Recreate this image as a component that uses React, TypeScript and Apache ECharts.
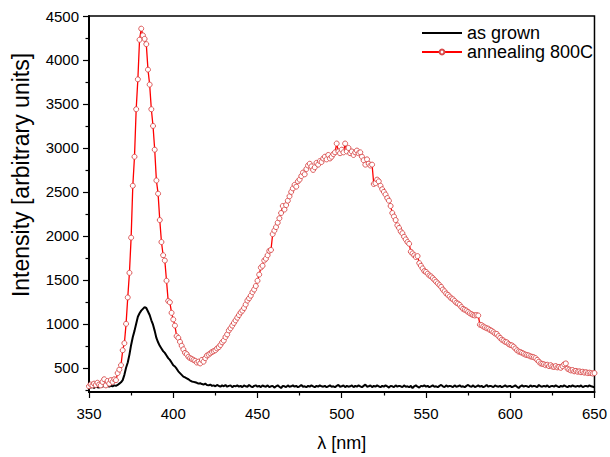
import React, { useEffect, useRef } from "react";
import * as echarts from "echarts";

// Wavelength sampling grid (nm), 1 nm steps from 350 to 650
const wavelengths: number[] = Array.from({ length: 301 }, (_, i) => 350 + i);

// "annealing 800C" intensities, 350..650 nm
const annealing800C: number[] = [
  290, 310, 300, 320, 305, 330, 310, 300, 340, 370,
  300, 350, 320, 360, 340, 370, 360, 440, 480, 530,
  700, 780, 1000, 1300, 1580, 1980, 2570, 2900, 3440, 3780,
  4230, 4356, 4280, 4240, 4180, 3890, 3720, 3440, 3250, 2980,
  2630, 2480, 2180, 1930, 1780, 1720, 1490, 1260, 1245, 1125,
  1050, 980, 860, 840, 795, 750, 710, 670, 655, 625,
  610, 600, 590, 580, 560, 570, 550, 590, 570, 610,
  640, 650, 665, 680, 690, 700, 720, 735, 760, 790,
  810, 850, 880, 925, 950, 980, 1010, 1040, 1070, 1100,
  1130, 1150, 1180, 1220, 1265, 1290, 1320, 1360, 1390, 1430,
  1490, 1560, 1640, 1660, 1720, 1740, 1780, 1830, 1840, 2020,
  2060, 2100, 2150, 2200, 2260, 2340, 2300, 2350, 2400, 2450,
  2500, 2540, 2580, 2560, 2620, 2640, 2680, 2720, 2700, 2760,
  2800, 2820, 2790, 2750, 2780, 2830, 2810, 2850, 2840, 2880,
  2900, 2870, 2920, 2880, 2900, 2930, 2950, 3050, 2960, 2940,
  2980, 2950, 3050, 2960, 3000, 2940, 2960, 2920, 2950, 2970,
  2940, 2950, 2900, 2860, 2810, 2870, 2820, 2800, 2810, 2590,
  2600, 2640, 2620, 2570, 2530, 2500, 2470, 2430, 2400, 2340,
  2260, 2220, 2180, 2120, 2090, 2050, 2030, 1990, 1960, 1930,
  1910, 1820, 1800, 1780, 1760, 1770, 1690, 1660, 1630, 1600,
  1590, 1570, 1550, 1540, 1520, 1500, 1480, 1460, 1440, 1420,
  1390, 1370, 1345, 1330, 1310, 1290, 1280, 1260, 1240, 1230,
  1215, 1190, 1170, 1160, 1150, 1135, 1120, 1110, 1100, 1095,
  1100, 1095, 990, 985, 970, 960, 950, 945, 930, 920,
  905, 890, 885, 860, 840, 820, 810, 795, 790, 770,
  760, 755, 740, 720, 700, 685, 680, 670, 660, 650,
  645, 640, 630, 625, 620, 610, 590, 570, 550, 545,
  540, 530, 535, 520, 530, 515, 510, 520, 505, 510,
  500, 520, 540, 550, 490, 480, 470, 475, 460, 465,
  455, 460, 450, 455, 445, 450, 440, 445, 440, 435,
  440,
];

// "as grown" intensities, 350..650 nm
const asGrown: number[] = [
  280, 275, 285, 270, 290, 280, 275, 300, 285, 295,
  290, 300, 285, 295, 290, 300, 295, 305, 320, 335,
  360, 420, 500, 560, 650, 760, 850, 920, 1000, 1080,
  1120, 1150, 1170, 1190, 1180, 1140, 1100, 1040, 990, 920,
  840, 790, 750, 720, 690, 670, 640, 610, 590, 560,
  530, 515, 490, 460, 440, 420, 400, 390, 380, 370,
  355, 345, 340, 335, 330, 320, 325, 315, 310, 320,
  305, 300, 310, 295, 300, 290, 305, 295, 285, 300,
  290, 305, 285, 295, 300, 280, 295, 290, 300, 285,
  295, 280, 300, 290, 285, 305, 290, 280, 295, 300,
  285, 295, 280, 300, 290, 285, 300, 280, 290, 295,
  275, 290, 300, 285, 270, 295, 290, 280, 300, 285,
  290, 300, 285, 295, 280, 290, 305, 285, 290, 280,
  295, 285, 300, 290, 280, 295, 285, 300, 290, 285,
  295, 280, 290, 300, 285, 290, 280, 295, 305, 285,
  290, 300, 280, 295, 285, 290, 300, 280, 295, 285,
  300, 290, 280, 295, 310, 285, 290, 300, 280, 295,
  285, 300, 290, 280, 295, 285, 300, 290, 275, 295,
  290, 280, 300, 285, 295, 290, 280, 300, 285, 290,
  280, 295, 270, 290, 300, 285, 275, 295, 290, 300,
  285, 295, 280, 290, 300, 285, 290, 280, 295, 305,
  290, 280, 300, 285, 295, 290, 280, 300, 285, 290,
  300, 285, 290, 280, 295, 305, 290, 285, 300, 280,
  290, 300, 285, 295, 280, 290, 305, 285, 295, 290,
  280, 300, 290, 285, 295, 280, 290, 300, 285, 290,
  295, 280, 290, 300, 285, 270, 290, 300, 285, 295,
  290, 280, 300, 285, 295, 290, 280, 305, 290, 285,
  295, 285, 300, 280, 290, 295, 285, 300, 290, 280,
  295, 285, 300, 290, 280, 295, 285, 300, 290, 285,
  295, 285, 300, 280, 290, 295, 285, 300, 290, 285,
  280,
];

const yMajorTicks: number[] = [500, 1000, 1500, 2000, 2500, 3000, 3500, 4000, 4500];
const yMinorTicks: number[] = [250, 750, 1250, 1750, 2250, 2750, 3250, 3750, 4250];

const FONT = "'Liberation Sans', Arial, sans-serif";

export default function App() {
  const ref = useRef<HTMLDivElement>(null);

  useEffect(() => {
    document.body.style.margin = "0";
    if (!ref.current) return;
    const chart = echarts.init(ref.current, undefined, { renderer: "svg" });
    const grownData = wavelengths.map((w, i) => [w, asGrown[i]]);
    const annealData = wavelengths.map((w, i) => [w, annealing800C[i]]);
    chart.setOption({
      animation: false,
      backgroundColor: "#fff",
      textStyle: { fontFamily: FONT },
      grid: {
        left: 89,
        right: 14,
        top: 16,
        bottom: 65,
        show: true,
        borderColor: "#000",
        borderWidth: 1.5,
        backgroundColor: "transparent",
      },
      graphic: [
        {
          type: "text",
          x: 21,
          y: 175,
          rotation: Math.PI / 2,
          style: {
            text: "Intensity [arbitrary units]",
            font: "23px 'Liberation Sans', Arial, sans-serif",
            fill: "#000",
            align: "center",
            verticalAlign: "middle",
          },
        },
      ],
      legend: {
        left: 416,
        top: 19,
        orient: "vertical",
        itemWidth: 40,
        itemHeight: 6,
        itemGap: 1,
        textStyle: { fontSize: 18, lineHeight: 17, color: "#000", fontFamily: FONT },
        data: [
          { name: "as grown", icon: "path://M0,0 L40,0 L40,2 L0,2 Z" },
          { name: "annealing 800C" },
        ],
      },
      xAxis: {
        type: "value",
        min: 350,
        max: 650,
        interval: 50,
        name: "λ [nm]",
        nameLocation: "middle",
        nameGap: 42,
        nameTextStyle: { fontSize: 18, color: "#000", fontFamily: FONT },
        axisLine: { show: true, lineStyle: { color: "#000", width: 2 } },
        axisTick: { show: true, length: 6, lineStyle: { color: "#000", width: 1.2 } },
        minorTick: { show: true, splitNumber: 2, length: 3.5, lineStyle: { color: "#000", width: 1.2 } },
        axisLabel: { fontSize: 15, color: "#000", margin: 14, fontFamily: FONT, formatter: (v: number) => String(v) },
        splitLine: { show: false },
      },
      yAxis: [
        {
          type: "value",
          min: 225,
          max: 4500,
          axisLine: { show: true, lineStyle: { color: "#000", width: 2 } },
          axisTick: { show: true, length: 6, customValues: yMajorTicks, lineStyle: { color: "#000", width: 1.2 } },
          axisLabel: {
            fontSize: 15,
            color: "#000",
            margin: 10,
            customValues: yMajorTicks,
            fontFamily: FONT,
            formatter: (v: number) => String(v),
          },
          splitLine: { show: false },
        },
        {
          type: "value",
          min: 225,
          max: 4500,
          position: "left",
          axisLine: { show: false },
          axisTick: { show: true, length: 3.5, customValues: yMinorTicks, lineStyle: { color: "#000", width: 1.2 } },
          axisLabel: { show: false, customValues: yMinorTicks },
          splitLine: { show: false },
        },
      ],
      series: [
        {
          name: "as grown",
          type: "line",
          data: grownData,
          showSymbol: false,
          symbol: "none",
          lineStyle: { color: "#000", width: 2 },
          itemStyle: { color: "#000" },
          z: 2,
        },
        {
          name: "annealing 800C",
          type: "line",
          data: annealData,
          symbol: "circle",
          symbolSize: 5,
          showAllSymbol: true,
          lineStyle: { color: "#ff0000", width: 1.3 },
          itemStyle: { color: "#fff", borderColor: "#d84a4a", borderWidth: 0.9 },
          z: 3,
        },
      ],
    });
    return () => chart.dispose();
  }, []);

  return <div ref={ref} style={{ width: 610, height: 457 }} />;
}
